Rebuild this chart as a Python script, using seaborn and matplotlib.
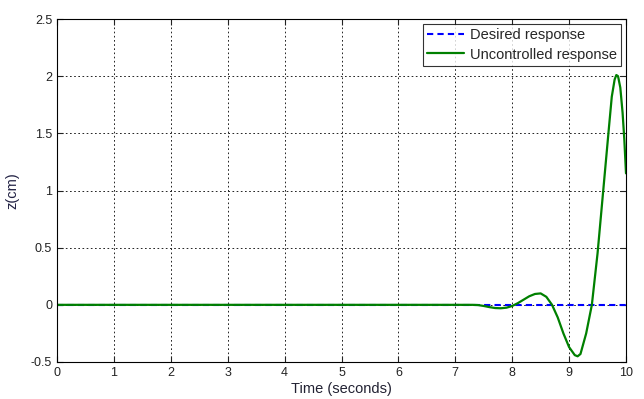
import matplotlib
matplotlib.use("Agg")
import matplotlib.pyplot as plt
import seaborn as sns
import numpy as np
import pandas as pd

# Data
desired_t = [0, 10]
desired_z = [0, 0]

unc_t = [0, 1, 2, 3, 4, 5, 6, 7, 7.3, 7.4, 7.5, 7.6, 7.7, 7.8, 7.9, 8.0, 8.1, 8.2,
         8.3, 8.4, 8.5, 8.6, 8.7, 8.8, 8.9, 9.0, 9.1, 9.15, 9.2, 9.3, 9.4, 9.5,
         9.6, 9.7, 9.75, 9.8, 9.83, 9.86, 9.9, 9.94, 9.97, 10.0]
unc_z = [0, 0, 0, 0, 0, 0, 0, 0, 0, -0.002, -0.01, -0.02, -0.028, -0.03, -0.025,
         -0.01, 0.015, 0.045, 0.075, 0.095, 0.10, 0.07, 0.0, -0.11, -0.25, -0.37,
         -0.44, -0.45, -0.43, -0.25, 0.0, 0.45, 1.0, 1.55, 1.82, 1.97, 2.01, 2.0,
         1.9, 1.68, 1.45, 1.15]

x_ticks = [0, 1, 2, 3, 4, 5, 6, 7, 8, 9, 10]
y_ticks = [-0.5, 0, 0.5, 1, 1.5, 2, 2.5]

sns.set_style("white")
plt.rcParams['font.family'] = ['Liberation Sans', 'DejaVu Sans']

fig = plt.figure(figsize=(6.44, 3.99), dpi=100)
ax = fig.add_axes([57/644, 37/399, (626-57)/644, (362-19)/399])

df_d = pd.DataFrame({"t": desired_t, "z": desired_z})
df_u = pd.DataFrame({"t": unc_t, "z": unc_z})

sns.lineplot(data=df_d, x="t", y="z", ax=ax, color="#0000ff", lw=1.5,
             label="Desired response", estimator=None)
ax.lines[-1].set_dashes([3, 2])
sns.lineplot(data=df_u, x="t", y="z", ax=ax, color="#008000", lw=1.6,
             label="Uncontrolled response", estimator=None)

ax.set_xlim(0, 10)
ax.set_ylim(-0.5, 2.5)
ax.set_xticks(x_ticks)
ax.set_yticks(y_ticks)
ax.set_xticklabels([str(v) for v in x_ticks])
ax.set_yticklabels(["-0.5", "0", "0.5", "1", "1.5", "2", "2.5"])
ax.grid(True, color="k", linestyle=(0, (2, 3)), lw=0.6)
ax.tick_params(direction="in", length=4, labelsize=9, colors="#222222",
               top=True, right=True, bottom=True, left=True)
for s in ax.spines.values():
    s.set_color("k")
    s.set_linewidth(0.8)

ax.set_xlabel("Time (seconds)", fontsize=10.5, color="#222233", labelpad=2)
ax.set_ylabel("z(cm)", fontsize=10.5, color="#222244", labelpad=8)

leg = ax.legend(loc="upper right", fontsize=10.5, frameon=True, fancybox=False,
                borderaxespad=0.35, handlelength=2.5, handletextpad=0.4,
                labelspacing=0.35, borderpad=0.3)
leg.get_frame().set_edgecolor("k")
leg.get_frame().set_linewidth(0.8)

fig.savefig("out.png", dpi=100)
